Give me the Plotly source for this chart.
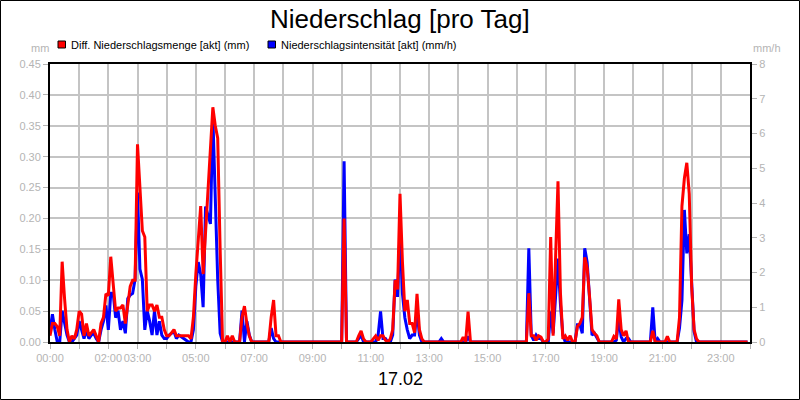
import plotly.graph_objects as go
import pandas as pd

# Diff. Niederschlagsmenge [akt] (mm), 5-minute values, one line per hour
precip_mm = [
    0.01, 0.03, 0.03, 0.025, 0.01, 0.13, 0.07, 0.02, 0.0, 0.01, 0.005, 0.02,      # 00
    0.05, 0.045, 0.01, 0.03, 0.01, 0.015, 0.02, 0.01, 0.0, 0.03, 0.04, 0.078,     # 01
    0.075, 0.138, 0.09, 0.05, 0.055, 0.055, 0.06, 0.03, 0.06, 0.09, 0.1, 0.1,     # 02
    0.32, 0.24, 0.18, 0.17, 0.05, 0.06, 0.06, 0.05, 0.06, 0.04, 0.04, 0.02,       # 03
    0.01, 0.01, 0.015, 0.02, 0.01, 0.01, 0.01, 0.01, 0.01, 0.01, 0.005, 0.04,     # 04
    0.11, 0.17, 0.22, 0.11, 0.18, 0.25, 0.31, 0.38, 0.35, 0.33, 0.15, 0.0,        # 05
    0.0, 0.01, 0.0, 0.01, 0.0, 0.0, 0.0, 0.04, 0.058, 0.03, 0.01, 0.0,            # 06
    0.0, 0.0, 0.0, 0.0, 0.0, 0.0, 0.0, 0.04, 0.068, 0.01, 0.01, 0.0,              # 07
    0.0, 0.0, 0.0, 0.0, 0.0, 0.0, 0.0, 0.0, 0.0, 0.0, 0.0, 0.0,                   # 08
    0.0, 0.0, 0.0, 0.0, 0.0, 0.0, 0.0, 0.0, 0.0, 0.0, 0.0, 0.0,                   # 09
    0.0, 0.2, 0.0, 0.0, 0.0, 0.0, 0.0, 0.01, 0.018, 0.005, 0.0, 0.0,              # 10
    0.0, 0.005, 0.01, 0.003, 0.01, 0.01, 0.003, 0.0, 0.005, 0.02, 0.1, 0.085,     # 11
    0.24, 0.13, 0.05, 0.068, 0.03, 0.03, 0.015, 0.078, 0.02, 0.005, 0.0, 0.0,     # 12
    0.0, 0.0, 0.0, 0.0, 0.0, 0.0, 0.0, 0.0, 0.0, 0.0, 0.0, 0.0,                   # 13
    0.0, 0.0, 0.008, 0.0, 0.049, 0.0, 0.0, 0.0, 0.0, 0.0, 0.0, 0.0,               # 14
    0.0, 0.0, 0.0, 0.0, 0.0, 0.0, 0.0, 0.0, 0.0, 0.0, 0.0, 0.0,                   # 15
    0.0, 0.0, 0.0, 0.0, 0.0, 0.079, 0.01, 0.01, 0.003, 0.01, 0.008, 0.0,          # 16
    0.0, 0.005, 0.17, 0.01, 0.13, 0.26, 0.08, 0.005, 0.01, 0.003, 0.01, 0.0,      # 17
    0.0, 0.025, 0.03, 0.04, 0.137, 0.12, 0.073, 0.02, 0.014, 0.01, 0.0, 0.0,      # 18
    0.0, 0.0, 0.0, 0.0, 0.009, 0.005, 0.069, 0.02, 0.01, 0.018, 0.0, 0.0,         # 19
    0.0, 0.0, 0.0, 0.0, 0.0, 0.0, 0.0, 0.0, 0.018, 0.0, 0.0, 0.0,                 # 20
    0.0, 0.0, 0.009, 0.0, 0.0, 0.0, 0.0, 0.04, 0.22, 0.265, 0.29, 0.24,           # 21
    0.09, 0.02, 0.005, 0.0, 0.0, 0.0, 0.0, 0.0, 0.0, 0.0, 0.0, 0.0,               # 22
    0.0, 0.0, 0.0, 0.0, 0.0, 0.0, 0.0, 0.0, 0.0, 0.0, 0.0, 0.0,                   # 23
]

# Niederschlagsintensität [akt] (mm/h), 5-minute values, one line per hour
intensity_mmh = [
    0.35, 0.8, 0.35, 0.0, 0.0, 0.9, 0.55, 0.2, 0.0, 0.0, 0.1, 0.2,               # 00
    0.6, 0.35, 0.1, 0.35, 0.1, 0.2, 0.25, 0.1, 0.0, 0.35, 0.6, 1.05,             # 01
    0.35, 1.4, 1.4, 0.7, 0.9, 0.35, 0.6, 0.25, 1.25, 1.35, 1.4, 1.8,             # 02
    4.3, 2.1, 1.8, 0.35, 0.9, 0.6, 0.2, 0.9, 0.2, 0.6, 0.2, 0.1,                 # 03
    0.1, 0.2, 0.25, 0.3, 0.1, 0.2, 0.15, 0.1, 0.05, 0.0, 0.0, 0.35,              # 04
    1.6, 2.3, 1.95, 1.0, 3.9, 3.65, 3.4, 6.5, 4.1, 1.8, 0.25, 0.0,               # 05
    0.0, 0.0, 0.0, 0.0, 0.0, 0.0, 0.0, 0.9, 0.0, 0.6, 0.2, 0.0,                  # 06
    0.0, 0.0, 0.0, 0.0, 0.0, 0.0, 0.0, 0.4, 0.1, 0.0, 0.0, 0.0,                  # 07
    0.0, 0.0, 0.0, 0.0, 0.0, 0.0, 0.0, 0.0, 0.0, 0.0, 0.0, 0.0,                  # 08
    0.0, 0.0, 0.0, 0.0, 0.0, 0.0, 0.0, 0.0, 0.0, 0.0, 0.0, 0.0,                  # 09
    0.0, 5.2, 0.0, 0.0, 0.0, 0.0, 0.0, 0.1, 0.2, 0.0, 0.0, 0.0,                  # 10
    0.0, 0.0, 0.0, 0.2, 0.88, 0.1, 0.1, 0.0, 0.0, 0.2, 1.8, 1.3,                 # 11
    3.2, 1.4, 0.7, 0.35, 0.1, 0.2, 0.2, 0.9, 0.2, 0.0, 0.0, 0.0,                 # 12
    0.0, 0.0, 0.0, 0.0, 0.0, 0.1, 0.0, 0.0, 0.0, 0.0, 0.0, 0.0,                  # 13
    0.0, 0.0, 0.0, 0.0, 0.16, 0.0, 0.0, 0.0, 0.0, 0.0, 0.0, 0.0,                 # 14
    0.0, 0.0, 0.0, 0.0, 0.0, 0.0, 0.0, 0.0, 0.0, 0.0, 0.0, 0.0,                  # 15
    0.0, 0.0, 0.0, 0.0, 0.0, 2.7, 0.2, 0.05, 0.2, 0.1, 0.1, 0.0,                 # 16
    0.0, 0.0, 0.88, 0.25, 1.3, 2.4, 1.1, 0.2, 0.0, 0.0, 0.0, 0.0,                # 17
    0.0, 0.5, 0.5, 0.25, 2.7, 2.3, 1.3, 0.2, 0.25, 0.1, 0.0, 0.0,                # 18
    0.0, 0.0, 0.0, 0.0, 0.0, 0.05, 0.68, 0.15, 0.0, 0.1, 0.1, 0.0,               # 19
    0.0, 0.0, 0.0, 0.0, 0.0, 0.0, 0.0, 0.0, 1.0, 0.0, 0.1, 0.0,                  # 20
    0.0, 0.0, 0.0, 0.0, 0.0, 0.0, 0.0, 0.4, 1.2, 3.8, 2.55, 3.1,                 # 21
    1.5, 0.3, 0.0, 0.0, 0.0, 0.0, 0.0, 0.0, 0.0, 0.0, 0.0, 0.0,                  # 22
    0.0, 0.0, 0.0, 0.0, 0.0, 0.0, 0.0, 0.0, 0.0, 0.0, 0.0, 0.0,                  # 23
]

x_tick_text = ["00:00", "", "02:00", "03:00", "", "05:00", "", "07:00", "",
               "09:00", "", "11:00", "", "13:00", "", "15:00", "", "17:00", "",
               "19:00", "", "21:00", "", "23:00", ""]

times = pd.date_range("2025-02-17 00:00", periods=len(precip_mm), freq="5min")
hour_ticks = pd.date_range("2025-02-17 00:00", periods=25, freq="h")

# plot area in pixels: x 50..750, y 64..342
def px(x):
    return (x - 50) / 700.0

def py(y):
    return (342 - y) / 278.0

FONT = "Arial, Liberation Sans, sans-serif"
GRAY = "#b4b4b4"
GRID = "#c4c4c4"

fig = go.Figure()

# blue on the base axis (right side), red on the overlay axis so it is drawn on top
fig.add_trace(go.Scatter(
    x=times, y=intensity_mmh, yaxis="y", mode="lines",
    line=dict(color="#0000ff", width=3),
    name="Niederschlagsintensität [akt] (mm/h)"
))
fig.add_trace(go.Scatter(
    x=times, y=precip_mm, yaxis="y2", mode="lines",
    line=dict(color="#ff0000", width=3),
    name="Diff. Niederschlagsmenge [akt] (mm)"
))

shapes = [
    dict(type="rect", xref="paper", yref="paper", x0=px(58), x1=px(65.5),
         y0=py(48), y1=py(41), fillcolor="#ff0000", line=dict(color="black", width=1)),
    dict(type="rect", xref="paper", yref="paper", x0=px(268), x1=px(275.5),
         y0=py(48), y1=py(41), fillcolor="#0000ff", line=dict(color="black", width=1)),
    # outer frame
    dict(type="rect", xref="paper", yref="paper", x0=px(0.5), x1=px(799.5),
         y0=py(399.5), y1=py(0.5), line=dict(color="black", width=1)),
]

annotations = [
    dict(text="Diff. Niederschlagsmenge [akt] (mm)", x=px(69), y=py(44.5),
         xanchor="left", yanchor="middle", font=dict(size=11, color="black")),
    dict(text="Niederschlagsintensität [akt] (mm/h)", x=px(279), y=py(44.5),
         xanchor="left", yanchor="middle", font=dict(size=11, color="black")),
    dict(text="mm", x=px(40), y=py(48), xanchor="center", yanchor="middle",
         font=dict(size=11, color=GRAY)),
    dict(text="mm/h", x=px(767), y=py(48), xanchor="center", yanchor="middle",
         font=dict(size=11, color=GRAY)),
    dict(text="Niederschlag [pro Tag]", x=0.5, y=py(19), xanchor="center",
         yanchor="middle", font=dict(size=26, color="black")),
    dict(text="17.02", x=0.5, y=py(379), xanchor="center", yanchor="middle",
         font=dict(size=18, color="black")),
]
for a in annotations:
    a.update(xref="paper", yref="paper", showarrow=False)

tick_style = dict(ticks="outside", ticklen=5, tickcolor=GRAY,
                  tickfont=dict(size=11, color=GRAY), zeroline=False)

fig.update_layout(
    width=800, height=400,
    margin=dict(l=50, r=50, t=64, b=58),
    paper_bgcolor="white", plot_bgcolor="white",
    font=dict(family=FONT, size=11, color=GRAY),
    showlegend=False,
    shapes=shapes,
    annotations=annotations,
    xaxis=dict(
        type="date",
        range=[hour_ticks[0], hour_ticks[-1]],
        tickmode="array", tickvals=hour_ticks, ticktext=x_tick_text,
        tickangle=0,
        showgrid=True, gridcolor=GRID, gridwidth=1.5,
        showline=True, linecolor="black", linewidth=2, mirror=True,
        **tick_style,
    ),
    yaxis=dict(
        side="right",
        range=[0, 8], dtick=1, tick0=0,
        showgrid=False,
        showline=True, linecolor="black", linewidth=2,
        **tick_style,
    ),
    yaxis2=dict(
        overlaying="y", side="left",
        range=[0, 0.45], dtick=0.05, tick0=0, tickformat=".2f",
        showgrid=True, gridcolor=GRID, gridwidth=1.5,
        showline=True, linecolor="black", linewidth=2,
        **tick_style,
    ),
)

fig.write_html("out.html", config={"displayModeBar": False},
               post_script="document.body.style.margin='0';")
